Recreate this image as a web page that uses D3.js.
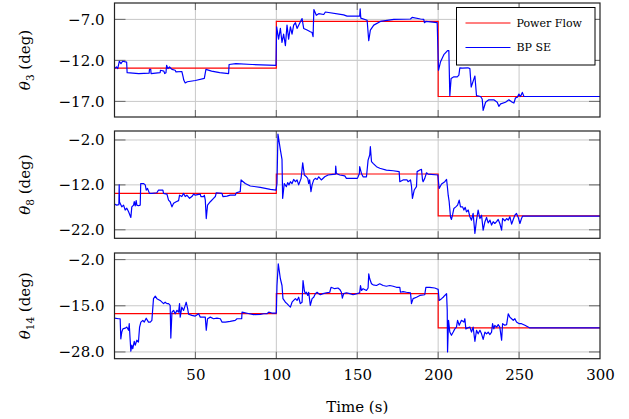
<!DOCTYPE html>
<html lang="en">
<head>
    <meta charset="UTF-8">
    <title>Bus voltage angles: Power Flow vs BP SE</title>
    <script src="https://d3js.org/d3.v7.min.js"></script>
    <style>
        body { margin: 0; background: #fff; }
        text { font-family: "DejaVu Serif", serif; fill: #000; }
        .grid line { stroke: #c8c8c8; stroke-width: 1; }
        .pf { fill: none; stroke: #ff0000; stroke-width: 1.2; }
        .se { fill: none; stroke: #0000ff; stroke-width: 1.2; stroke-linejoin: round; }
    </style>
</head>
<body>
<div id="chart"></div>
<script>
    // time axis
    var xTicks = [50, 100, 150, 200, 250, 300];
    var stepTimes = [0, 100, 200, 300];

    // power flow reference angles (deg) for each interval
    var pf3 = [-12.95, -7.25, -16.4];
    var pf8 = [-13.9, -9.58, -18.9];
    var pf14 = [-17.2, -11.6, -21.25];

    // y ticks per bus
    var yTicks3 = [-7, -12, -17];
    var yTicks8 = [-2, -12, -22];
    var yTicks14 = [-2, -15, -28];

    // BP state estimate traces [time, angle]
    var se3 = [[0,-13.0],[1.2,-12.8],[2,-13.0],[3,-12.1],[4,-12.4],[5,-12.1],[7.5,-12.2],[7.8,-13.5],[15,-13.6],[21.4,-13.55],[21.6,-13.1],[22.4,-13.1],[22.6,-13.6],[28.2,-13.5],[28.4,-13.2],[30.5,-13.3],[31,-13.6],[31.8,-13.5],[32.2,-12.6],[33,-13.0],[34,-12.8],[35.5,-13.1],[37.5,-13.2],[38,-13.4],[41.6,-13.35],[42.4,-14.0],[42.8,-14.4],[43.7,-14.75],[45,-14.6],[50,-14.45],[55.5,-14.2],[56.5,-13.1],[60,-13.3],[65,-13.5],[70.5,-13.6],[70.8,-12.5],[75,-12.4],[85,-12.5],[99.8,-12.6],[100.2,-7.9],[101.4,-9.4],[102.5,-8.1],[103.5,-9.8],[104.5,-8.8],[105.6,-10.2],[106.6,-7.7],[107.6,-9.4],[108.7,-7.9],[109.7,-8.8],[110.7,-7.7],[111.8,-7.4],[112.8,-8.1],[113.8,-7.7],[115.9,-6.9],[116.9,-8.1],[119,-8.3],[121,-8.5],[122.1,-8.6],[122.7,-9.1],[123.2,-5.8],[124.7,-6.5],[126.2,-6.3],[129.3,-6.4],[130.3,-6.1],[141.6,-6.45],[143.7,-6.6],[151.5,-6.6],[151.8,-5.7],[152.2,-6.85],[156.1,-7.1],[157.1,-9.6],[158.1,-8.3],[160.2,-7.7],[164.3,-7.25],[172.6,-7.0],[182.9,-6.95],[183.9,-6.75],[189.1,-6.95],[191.1,-7.0],[191.5,-7.4],[192.4,-7.25],[199.4,-7.4],[200.2,-13.2],[201.4,-12.2],[203.5,-11.3],[205.8,-10.8],[206.6,-10.8],[207.2,-16.3],[208,-14.2],[209.7,-14.0],[211.8,-14.0],[212.8,-13.8],[213.4,-12.9],[214.8,-12.95],[218.4,-12.9],[219.6,-13.0],[220.4,-15.25],[222.1,-14.25],[222.7,-13.9],[223.7,-16.3],[226.2,-16.4],[227.2,-16.7],[227.8,-18.1],[229.3,-17.1],[231.3,-16.8],[234.4,-16.8],[236.5,-17.1],[237.5,-17.6],[238.6,-17.3],[241.6,-17.1],[243.7,-16.8],[245.8,-17.1],[246.8,-17.2],[247.8,-16.55],[248.9,-16.5],[249.9,-16.1],[250.9,-16.4],[252,-15.9],[253,-16.4],[300,-16.4]];

    var se8 = [[0,-16.3],[1.4,-16.5],[2.7,-16.4],[2.9,-12.0],[3.1,-15.8],[4.5,-16.9],[5.6,-16.5],[6.6,-17.6],[7.6,-17.2],[8.7,-18.0],[10.1,-19.25],[10.7,-16.9],[11.8,-16.5],[12.2,-15.75],[12.8,-16.7],[13.4,-15.5],[13.8,-16.5],[14.8,-16.65],[15.9,-16.5],[16.2,-11.7],[17.9,-11.7],[19.0,-12.0],[19.6,-13.15],[20.4,-12.8],[21.6,-13.9],[23.1,-13.9],[26.2,-13.75],[27.2,-13.15],[29.9,-13.15],[30.3,-13.9],[32.4,-14.05],[33.4,-15.4],[34.4,-15.75],[35.5,-16.9],[36.5,-16.1],[38.1,-15.75],[39.6,-15.5],[40.2,-14.3],[41.6,-14.6],[42.7,-13.9],[43.7,-14.6],[44.7,-14.3],[46.4,-15.0],[47.8,-14.6],[48.9,-14.05],[49.9,-14.3],[52,-14.1],[53,-14.05],[53.4,-14.6],[55.1,-14.6],[55.5,-14.3],[56.1,-15.4],[56.7,-19.5],[57.5,-16.5],[59.2,-15.75],[61.2,-15.0],[62.3,-14.6],[62.9,-13.75],[66.4,-13.9],[67,-14.6],[69.5,-14.5],[71.5,-14.3],[74.6,-14.3],[75.3,-13.75],[77.7,-13.5],[78.2,-10.9],[80.8,-11.7],[83.9,-12.25],[90.1,-12.55],[96.3,-13.0],[99.8,-13.15],[100.4,-11.7],[101,-0.7],[102.5,-4.2],[103.5,-6.3],[103.9,-15.0],[104.9,-11.7],[106.2,-12.4],[107,-11.5],[107.8,-12.0],[108.7,-11.3],[109.7,-11.7],[110.7,-10.8],[111.8,-11.3],[112.8,-10.9],[113.8,-12.0],[115.3,-10.55],[116.3,-7.1],[117.3,-9.8],[118.6,-10.2],[119.4,-10.55],[120,-11.7],[120.6,-10.9],[121.4,-13.5],[122.1,-12.0],[123.1,-10.9],[124.1,-10.55],[125.2,-10.8],[126.2,-10.2],[127.8,-10.9],[129.9,-10.2],[132,-9.8],[135,-9.65],[136.5,-9.6],[136.7,-7.8],[137.1,-9.45],[139.2,-9.8],[142.3,-10.0],[143.3,-10.55],[150.1,-10.55],[151.3,-9.5],[151.5,-7.95],[152.6,-9.45],[153.6,-10.2],[155.7,-10.2],[156.7,-6.5],[157.7,-5.35],[158.1,-3.5],[158.8,-6.8],[159.8,-7.2],[161.9,-7.95],[163.9,-8.3],[168,-8.7],[172.2,-8.85],[175.9,-9.05],[176.3,-11.3],[178.3,-10.9],[180.8,-10.9],[181.4,-11.3],[182.9,-10.9],[183.5,-12.25],[184.1,-15.0],[185.2,-13.15],[186.6,-12.4],[187,-9.05],[188.7,-8.7],[189.7,-8.55],[190.3,-10.8],[190.7,-11.3],[191.7,-10.55],[192.8,-9.3],[193.8,-9.6],[199.8,-9.8],[200.6,-12.8],[202.1,-11.8],[204.1,-11.3],[205.2,-10.8],[205.8,-12.8],[206.2,-14.3],[206.8,-15.75],[207.6,-19.1],[208.2,-19.7],[208.9,-18.7],[209.7,-17.25],[210.9,-16.9],[212,-16.5],[213,-15.4],[213.8,-16.9],[215.1,-16.9],[215.9,-17.6],[216.7,-17.0],[217.5,-18.0],[218.6,-17.6],[219.6,-19.1],[220.6,-19.85],[221.6,-18.35],[222.7,-22.8],[223.7,-19.85],[224.7,-17.6],[225.8,-19.5],[226.8,-18.75],[227.8,-22.1],[228.9,-20.2],[229.9,-19.25],[230.9,-20.45],[232,-19.85],[233,-20.95],[234,-20.2],[235,-20.6],[236.1,-20.2],[237.1,-19.7],[238.1,-20.6],[239.2,-22.1],[239.8,-19.5],[241.2,-20.0],[242.3,-19.5],[243.3,-19.85],[244.3,-19.1],[245.4,-20.75],[246.4,-19.7],[247.4,-18.75],[248.4,-18.35],[249.5,-19.25],[250.5,-20.6],[251.5,-19.5],[252.2,-18.95],[300,-18.95]];

    var se14 = [[0,-18.5],[2.5,-18.65],[3.5,-18.65],[3.9,-24.3],[4.5,-22.4],[5.2,-21.5],[6.6,-21.3],[7.6,-21.0],[8.7,-21.9],[9.1,-20.05],[9.6,-24],[10.1,-27.8],[10.7,-26.1],[11.3,-27.1],[12.2,-25.0],[12.8,-26.1],[13.8,-24.7],[14.8,-25.2],[15.5,-21.0],[16.3,-19.6],[17.5,-19.1],[18.4,-19.6],[19.6,-18.5],[21,-19.6],[22.1,-19.6],[23.1,-19.1],[24.1,-13.0],[25.2,-12.3],[26.2,-13.0],[28.2,-13.5],[30.3,-14.4],[31.3,-14.0],[32.4,-14.4],[33.4,-14.4],[34.4,-14.9],[34.8,-24.1],[35.5,-16.8],[36.5,-16.3],[37.5,-17.25],[38.6,-16.3],[39.6,-16.8],[40.2,-14.4],[40.6,-18.2],[41.6,-15.4],[42.7,-16.3],[43.7,-14.9],[44.3,-14.0],[45.2,-15.8],[45.8,-17.4],[47.8,-17.7],[49.9,-17.9],[52,-17.25],[53,-18.2],[55.1,-18.2],[56.1,-18.2],[56.7,-21.9],[57.5,-18.65],[59.2,-18.2],[61.2,-18.65],[63.3,-18.5],[65.4,-18.65],[66.4,-19.6],[68.5,-19.6],[71.5,-19.4],[74.6,-19.1],[75.7,-18.65],[78.6,-18.65],[78.8,-16.8],[81.9,-17.1],[86,-17.5],[90.1,-17.4],[92.2,-17.25],[94.2,-17.25],[95.3,-16.8],[97.3,-17.05],[100,-17.05],[100.4,-9.3],[101.2,-3.2],[102.5,-7.4],[103.5,-9.3],[104.1,-13.0],[105.6,-14.0],[106.6,-14.4],[107.6,-14.9],[108.7,-15.4],[109.7,-14.0],[110.7,-13.5],[111.8,-13.0],[112.8,-13.5],[113.8,-12.6],[114.8,-14.4],[115.9,-14.0],[116.5,-7.9],[117.3,-10.7],[117.9,-11.6],[118.6,-11.2],[119.4,-12.1],[120,-11.2],[121,-14.9],[122.1,-13.0],[123.1,-12.6],[124.1,-11.6],[125.2,-11.2],[126.2,-11.6],[127.2,-11.9],[128.9,-11.6],[130.9,-11.35],[133,-11.2],[133.8,-9.8],[136.1,-10.2],[138.1,-10.0],[139.2,-10.4],[140.2,-11.2],[140.8,-12.85],[141.6,-11.6],[143.3,-11.35],[145.4,-11.6],[147.4,-11.9],[149.9,-11.6],[151.5,-11.35],[152,-9.3],[152.6,-10.7],[153.6,-10.2],[155.7,-10.7],[156.7,-10.0],[157.1,-6.0],[157.7,-7.4],[158.8,-8.8],[159.8,-9.1],[161.9,-9.3],[163.9,-8.8],[166,-9.3],[168,-9.5],[170.1,-9.3],[172.2,-9.5],[174.2,-9.8],[176.3,-9.8],[176.7,-11.2],[178.3,-11.0],[180.4,-11.2],[182.9,-11.35],[183.5,-14.4],[184.5,-13.0],[186.6,-12.6],[188.7,-12.1],[191.7,-11.9],[192.4,-9.8],[194.8,-9.8],[197.9,-10.0],[199,-10.2],[200,-10.4],[200.6,-13.5],[202.1,-13.0],[203.1,-12.6],[204.1,-12.1],[205.2,-11.6],[205.6,-16.3],[205.8,-28.0],[206.4,-19.1],[207.2,-22.4],[208.2,-23.3],[209.3,-22.4],[210.3,-21.5],[211.3,-21.0],[212,-19.1],[213,-20.5],[214.4,-19.1],[215.9,-19.6],[216.5,-18.65],[217.1,-21.5],[217.9,-21.3],[219.6,-21.0],[220.6,-22.4],[221.6,-21.0],[222.7,-25.0],[223.7,-21.9],[224.7,-22.9],[225.8,-21.9],[226.8,-22.9],[227.8,-24.45],[228.9,-22.4],[229.9,-22.9],[230.9,-22.4],[232,-23.1],[233,-22.4],[233.6,-20.05],[234.4,-21.5],[235,-20.5],[236.1,-21.0],[237.1,-20.3],[238.1,-21.0],[239.2,-24.7],[239.8,-20.05],[241.2,-20.5],[242.3,-20.3],[243.3,-17.25],[244.3,-18.2],[245.4,-18.65],[246.4,-19.1],[247.4,-18.65],[248.4,-19.6],[250.1,-20.05],[251.5,-20.05],[253.6,-20.5],[256.7,-21.25],[300,-21.25]];

    var w = 629, h = 419;
    var left = 114.5, right = 600;

    var svg = d3.select("#chart").append("svg")
        .attr("width", w)
        .attr("height", h);

    var x = d3.scaleLinear().domain([0, 300]).range([left, right]);
    var fmt = d3.format(".1f");

    var panels = [
        { se: se3, pf: pf3, ticks: yTicks3, dom: [-18.9, -5.0], top: 3, bottom: 117, sub: "3" },
        { se: se8, pf: pf8, ticks: yTicks8, dom: [-23.9, 0], top: 131, bottom: 238.3, sub: "8" },
        { se: se14, pf: pf14, ticks: yTicks14, dom: [-29.9, -0.15], top: 253, bottom: 358.7, sub: "14" }
    ];

    panels.forEach(function(p, i) {
        var y = d3.scaleLinear().domain(p.dom).range([p.bottom, p.top]);
        var g = svg.append("g");

        g.append("clipPath").attr("id", "clip" + i)
            .append("rect")
            .attr("x", left).attr("y", p.top)
            .attr("width", right - left).attr("height", p.bottom - p.top);

        // grid
        var grid = g.append("g").attr("class", "grid");
        grid.selectAll(".vx").data(xTicks.slice(0, -1)).enter().append("line")
            .attr("x1", function(d) { return x(d); }).attr("x2", function(d) { return x(d); })
            .attr("y1", p.top).attr("y2", p.bottom);
        grid.selectAll(".hy").data(p.ticks).enter().append("line")
            .attr("x1", left).attr("x2", right)
            .attr("y1", function(d) { return y(d); }).attr("y2", function(d) { return y(d); });

        // inner tick marks
        var tk = g.append("g").attr("stroke", "#707070").attr("stroke-width", 1.1);
        p.ticks.forEach(function(d) {
            tk.append("line").attr("x1", left).attr("x2", left + 11).attr("y1", y(d)).attr("y2", y(d));
            tk.append("line").attr("x1", right - 11).attr("x2", right).attr("y1", y(d)).attr("y2", y(d));
        });
        xTicks.slice(0, -1).forEach(function(d) {
            tk.append("line").attr("x1", x(d)).attr("x2", x(d)).attr("y1", p.top).attr("y2", p.top + 7);
            tk.append("line").attr("x1", x(d)).attr("x2", x(d)).attr("y1", p.bottom - 7).attr("y2", p.bottom);
        });

        // power flow step line
        var pfPts = stepTimes.map(function(t, k) { return [t, p.pf[Math.min(k, p.pf.length - 1)]]; });
        var stepLine = d3.line().curve(d3.curveStepAfter)
            .x(function(d) { return x(d[0]); })
            .y(function(d) { return y(d[1]); });
        var plot = g.append("g").attr("clip-path", "url(#clip" + i + ")");
        plot.append("path").datum(pfPts).attr("class", "pf").attr("d", stepLine);

        var seLine = d3.line()
            .x(function(d) { return x(d[0]); })
            .y(function(d) { return y(d[1]); });
        plot.append("path").datum(p.se).attr("class", "se").attr("d", seLine);

        // frame
        g.append("rect")
            .attr("x", left).attr("y", p.top)
            .attr("width", right - left).attr("height", p.bottom - p.top)
            .attr("fill", "none").attr("stroke", "#222").attr("stroke-width", 1.2);

        // y axis labels
        var yAxis = d3.axisLeft(y).tickValues(p.ticks).tickSize(0).tickPadding(10).tickFormat(fmt);
        var ya = g.append("g").attr("transform", "translate(" + left + ",0)").call(yAxis);
        ya.select(".domain").remove();
        ya.selectAll("text").style("font-family", "'DejaVu Serif', serif").style("font-size", "15px").attr("fill", "#000");

        // axis title
        var cy = (p.top + p.bottom) / 2;
        var lab = g.append("text")
            .attr("transform", "translate(30," + cy + ") rotate(-90)")
            .attr("text-anchor", "middle")
            .style("font-size", "15px");
        lab.append("tspan").style("font-style", "italic").text("θ");
        lab.append("tspan").attr("dy", 4).style("font-size", "10.5px").text(p.sub);
        lab.append("tspan").attr("dy", -4).text(" (deg)");

        if (i === 2) {
            var xAxis = d3.axisBottom(x).tickValues(xTicks).tickSize(0).tickPadding(11);
            var xa = g.append("g").attr("transform", "translate(0," + p.bottom + ")").call(xAxis);
            xa.select(".domain").remove();
            xa.selectAll("text").style("font-family", "'DejaVu Serif', serif").style("font-size", "15px").attr("fill", "#000");
        }
    });

    // x axis title
    svg.append("text")
        .attr("x", (left + right) / 2).attr("y", 412)
        .attr("text-anchor", "middle")
        .style("font-size", "15px")
        .text("Time (s)");

    // legend
    var legendData = [["Power Flow", "#ff0000"], ["BP SE", "#0000ff"]];
    var legend = svg.append("g").attr("transform", "translate(456.5,7.5)");
    legend.append("rect").attr("width", 138.5).attr("height", 57.5)
        .attr("fill", "#fff").attr("stroke", "#000").attr("stroke-width", 1);
    legend.selectAll("line").data(legendData).enter().append("line")
        .attr("x1", 9).attr("x2", 54)
        .attr("y1", function(d, i) { return 15.5 + i * 24.5; })
        .attr("y2", function(d, i) { return 15.5 + i * 24.5; })
        .attr("stroke", function(d) { return d[1]; }).attr("stroke-width", 1.2);
    legend.selectAll("text").data(legendData).enter().append("text")
        .attr("x", 60)
        .attr("y", function(d, i) { return 15.5 + i * 24.5; })
        .attr("dy", "0.35em")
        .style("font-size", "11px")
        .text(function(d) { return d[0]; });
</script>
</body>
</html>
